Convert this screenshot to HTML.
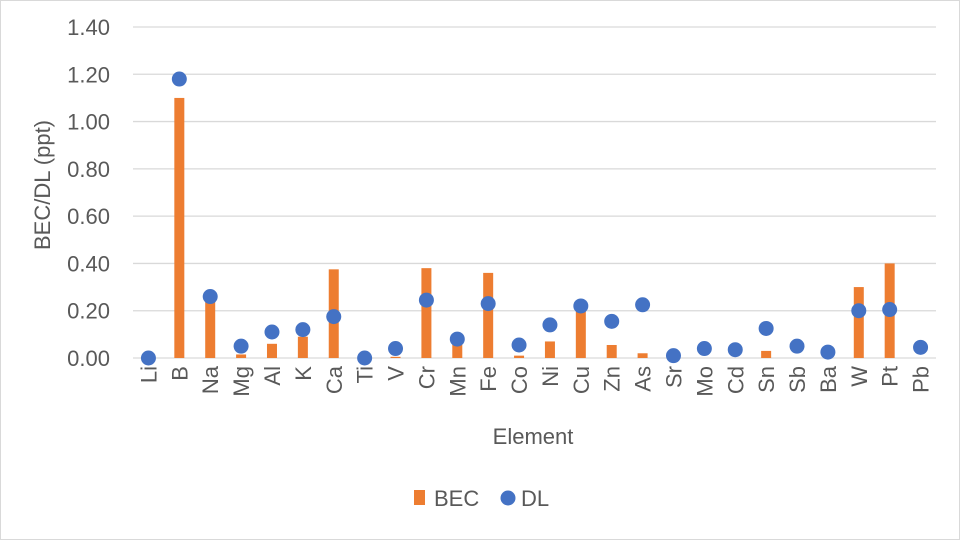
<!DOCTYPE html>
<html><head><meta charset="utf-8"><style>body{margin:0;background:#fff}svg{display:block}text{font-family:"Liberation Sans",sans-serif;fill:#595959}</style></head><body>
<svg width="960" height="540" xmlns="http://www.w3.org/2000/svg">
<rect x="0.5" y="0.5" width="959" height="539" fill="#fff" stroke="#d9d9d9"/>
<g id="g"></g>
</svg>
<script>
const g=document.getElementById('g');
const els=["Li","B","Na","Mg","Al","K","Ca","Ti","V","Cr","Mn","Fe","Co","Ni","Cu","Zn","As","Sr","Mo","Cd","Sn","Sb","Ba","W","Pt","Pb"];
const bec=[0,1.10,0.24,0.015,0.06,0.09,0.375,0,0.005,0.38,0.06,0.36,0.01,0.07,0.20,0.055,0.02,0,0,0,0.03,0,0,0.30,0.40,0];
const dl=[0,1.18,0.26,0.05,0.11,0.12,0.175,0,0.04,0.245,0.08,0.23,0.055,0.14,0.22,0.155,0.225,0.01,0.04,0.035,0.125,0.05,0.025,0.20,0.205,0.045];
const x0=133,x1=936,y0=358,y1=27,w=(x1-x0)/26;
const Y=v=>y0-(y0-y1)*v/1.4;
let s='';
for(let i=0;i<=7;i++){const v=i*0.2,y=Y(v);s+=`<line x1="${x0}" x2="${x1}" y1="${y}" y2="${y}" stroke="#d9d9d9" stroke-width="1.3"/><text x="110" y="${y+8}" font-size="22" text-anchor="end">${v.toFixed(2)}</text>`;}
els.forEach((e,i)=>{const cx=x0+w*(i+0.5);
if(bec[i]>0)s+=`<rect x="${cx-5}" y="${Y(bec[i])}" width="10" height="${y0-Y(bec[i])}" fill="#ed7d31"/>`;
s+=`<text transform="translate(${cx+8},366) rotate(-90)" font-size="22" text-anchor="end">${e}</text>`;});
els.forEach((e,i)=>{const cx=x0+w*(i+0.5);s+=`<circle cx="${cx}" cy="${Y(dl[i])}" r="7.5" fill="#4472c4"/>`;});
s+=`<text transform="translate(50,185) rotate(-90)" font-size="22" text-anchor="middle">BEC/DL (ppt)</text>`;
s+=`<text x="533" y="444" font-size="22" text-anchor="middle">Element</text>`;
s+=`<rect x="414" y="490" width="11" height="15" fill="#ed7d31"/><text x="434" y="506" font-size="22">BEC</text>`;
s+=`<circle cx="508" cy="498" r="7.5" fill="#4472c4"/><text x="521" y="506" font-size="22">DL</text>`;
g.innerHTML=s;
</script>
</body></html>
